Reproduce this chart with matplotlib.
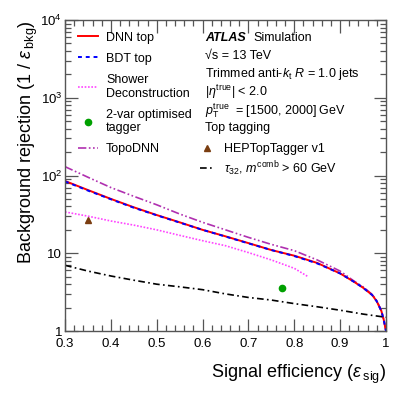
import matplotlib
matplotlib.use("Agg")
import matplotlib.pyplot as plt
from matplotlib.lines import Line2D
from matplotlib.ticker import FixedLocator, FixedFormatter, LogLocator, NullFormatter, MultipleLocator
import numpy as np

plt.rcParams['font.family'] = ['Liberation Sans', 'DejaVu Sans']
plt.rcParams['mathtext.fontset'] = 'custom'
plt.rcParams['mathtext.rm'] = 'Liberation Sans'
plt.rcParams['mathtext.it'] = 'Liberation Sans:italic'
plt.rcParams['mathtext.bf'] = 'Liberation Sans:bold'

# ---- data ----
dnn_eff = [0.3, 0.35, 0.4, 0.45, 0.5, 0.55, 0.6, 0.65, 0.7, 0.75, 0.8, 0.85, 0.9, 0.93, 0.95, 0.97, 0.98, 0.99, 0.995, 1.0]
dnn_rej = [85, 65, 50, 39, 31, 25, 20, 16.5, 13.5, 11, 9.3, 7.5, 5.5, 4.3, 3.6, 2.9, 2.4, 1.8, 1.4, 1.0]
bdt_eff = dnn_eff
bdt_rej = [84, 64, 49.5, 38.5, 30.8, 24.8, 20, 16.4, 13.4, 11, 9.2, 7.4, 5.5, 4.3, 3.6, 2.9, 2.4, 1.8, 1.4, 1.0]
topo_eff = [0.3, 0.35, 0.4, 0.45, 0.5, 0.55, 0.6, 0.65, 0.7, 0.75, 0.8, 0.85, 0.9, 0.93, 0.95, 0.97, 0.98, 0.99, 0.995, 1.0]
topo_rej = [130, 95, 70, 54, 42, 32, 25, 20, 16, 13, 10.8, 8.2, 5.9, 4.4, 3.7, 2.95, 2.45, 1.82, 1.4, 1.0]
sd_eff = [0.3, 0.35, 0.4, 0.45, 0.5, 0.55, 0.6, 0.65, 0.7, 0.75, 0.8, 0.83]
sd_rej = [34, 30, 26, 23, 20, 17, 14.5, 12.5, 10.2, 8.2, 6.4, 5.0]
tau_eff = [0.3, 0.35, 0.4, 0.45, 0.5, 0.55, 0.6, 0.65, 0.7, 0.75, 0.8, 0.85, 0.9, 0.95, 1.0]
tau_rej = [7.0, 5.9, 5.1, 4.5, 4.0, 3.7, 3.4, 3.0, 2.7, 2.5, 2.25, 2.05, 1.85, 1.65, 1.5]
twovar_eff = [0.7725]
twovar_rej = [3.53]
htt_eff = [0.35]
htt_rej = [26.8]

xticks = [0.3, 0.4, 0.5, 0.6, 0.7, 0.8, 0.9, 1.0]
xticklabels = ["0.3", "0.4", "0.5", "0.6", "0.7", "0.8", "0.9", "1"]
yticks = [1, 10, 100, 1000, 10000]
yticklabels = ["1", "10", r"10$^{2}$", r"10$^{3}$", r"10$^{4}$"]

fig = plt.figure(figsize=(4.07, 3.95), dpi=100)
ax = fig.add_axes([65/407, 1 - 331/395, (386-65)/407, (331-20)/395])

c_topo = '#b030b0'
ls_topo = (0, (5, 1.5, 1, 1.5, 1, 1.5))
ls_sd = (0, (1, 1))
ls_bdt = (0, (2, 2))
ls_tau = (0, (4, 2, 1, 2))
ax.plot(topo_eff, topo_rej, color=c_topo, lw=1.2, ls=ls_topo)
ax.plot(sd_eff, sd_rej, color='#ff44ff', lw=1.2, ls=ls_sd)
ax.plot(dnn_eff, dnn_rej, color='#ff0000', lw=1.4, ls='-')
ax.plot(bdt_eff, bdt_rej, color='#0000ff', lw=1.4, ls=ls_bdt)
ax.plot(tau_eff, tau_rej, color='black', lw=1.2, ls=ls_tau)
ax.plot(twovar_eff, twovar_rej, 'o', color='#00a000', ms=4.5)
ax.plot(htt_eff, htt_rej, '^', color='#7a3d10', ms=4.5)

ax.set_xlim(0.3, 1.0)
ax.set_yscale('log')
ax.set_ylim(1, 1e4)
ax.xaxis.set_major_locator(FixedLocator(xticks))
ax.xaxis.set_major_formatter(FixedFormatter(xticklabels))
ax.xaxis.set_minor_locator(MultipleLocator(0.02))
ax.yaxis.set_major_locator(FixedLocator(yticks))
ax.yaxis.set_major_formatter(FixedFormatter(yticklabels))
ax.yaxis.set_minor_locator(LogLocator(base=10, subs=np.arange(2, 10)))
ax.yaxis.set_minor_formatter(NullFormatter())

frame_c = '#555555'
for s in ax.spines.values():
    s.set_color(frame_c)
    s.set_linewidth(1.0)
ax.tick_params(which='both', direction='in', top=True, right=True, color=frame_c, labelsize=9.5, width=0.9)
ax.tick_params(which='major', length=9)
ax.tick_params(which='minor', length=4.5)
ax.tick_params(axis='x', pad=5)
ax.tick_params(axis='y', pad=2)

ax.set_xlabel(r"Signal efficiency ($\epsilon_{\;\mathrm{sig}}$)", fontsize=13, ha='right', x=1.0, labelpad=9)
ax.set_ylabel(r"Background rejection (1 / $\epsilon_{\;\mathrm{bkg}}$)", fontsize=13, ha='right', y=1.0, labelpad=0)

fs = 9
# legend 1
h1 = [
    Line2D([], [], color='#ff0000', lw=1.4),
    Line2D([], [], color='#0000ff', lw=1.4, ls=ls_bdt),
    Line2D([], [], color='#ff44ff', lw=1.2, ls=ls_sd),
    Line2D([], [], color='#00a000', marker='o', ls='none', ms=4.5),
    Line2D([], [], color=c_topo, lw=1.2, ls=ls_topo),
]
l1 = ['DNN top', 'BDT top', 'Shower\nDeconstruction', '2-var optimised\ntagger', 'TopoDNN']
leg1 = ax.legend(h1, l1, loc='upper left', bbox_to_anchor=(0.025, 0.978), frameon=False,
                 fontsize=fs, handlelength=1.6, handletextpad=0.65, labelspacing=0.72, borderaxespad=0)
ax.add_artist(leg1)

# legend 2
h2 = [
    Line2D([], [], color='#7a3d10', marker='^', ls='none', ms=4.5),
    Line2D([], [], color='black', lw=1.2, ls=ls_tau),
]
l2 = ['HEPTopTagger v1', r'$\tau_{32}$, $m^{\mathrm{comb}}$ > 60 GeV']
ax.legend(h2, l2, loc='upper left', bbox_to_anchor=(0.405, 0.62), frameon=False,
          fontsize=fs, handlelength=1.05, handletextpad=0.85, labelspacing=0.3, borderaxespad=0)

# text block
tx = (205 - 65) / (386 - 65)
def ty(py):
    return (331 - py) / (331 - 20)
ax.text(tx, ty(38), 'ATLAS', transform=ax.transAxes, fontsize=fs, fontweight='bold', fontstyle='italic', va='center')
ax.text(tx + 0.15, ty(38), 'Simulation', transform=ax.transAxes, fontsize=fs, va='center')
ax.text(tx, ty(56), '\u221As = 13 TeV', transform=ax.transAxes, fontsize=fs, va='center')
ax.text(tx, ty(74), r'Trimmed anti-$k_{\mathrm{t}}$ $R$ = 1.0 jets', transform=ax.transAxes, fontsize=fs, va='center')
ax.text(tx, ty(92), r'$|\eta^{\mathrm{true}}|$ < 2.0', transform=ax.transAxes, fontsize=fs, va='center')
ax.text(tx, ty(111), r'$p_{\mathrm{T}}^{\mathrm{true}}$  = [1500, 2000] GeV', transform=ax.transAxes, fontsize=fs, va='center')
ax.text(tx, ty(128), 'Top tagging', transform=ax.transAxes, fontsize=fs, va='center')

fig.savefig('out.png', dpi=100)
